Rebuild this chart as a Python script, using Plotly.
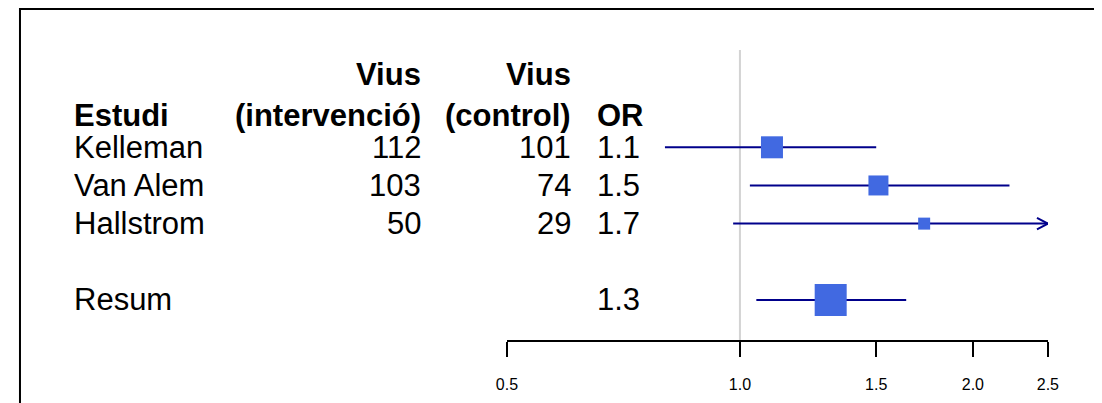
import math
import plotly.graph_objects as go

# ---------------- data ----------------
studies = ["Kelleman", "Van Alem", "Hallstrom"]
alive_intervention = [112, 103, 50]
alive_control = [101, 74, 29]
odds_ratio = [1.10, 1.51, 1.73]
ci_low = [0.80, 1.03, 0.98]
ci_high = [1.50, 2.23, 3.10]
summary_label = "Resum"
summary_or = 1.31
summary_low = 1.05
summary_high = 1.64
header_line1 = ["", "Vius", "Vius", ""]
header_line2 = ["Estudi", "(intervenció)", "(control)", "OR"]
tick_vals = [0.5, 1.0, 1.5, 2.0, 2.5]
tick_text = ["0.5", "1.0", "1.5", "2.0", "2.5"]
x_min, x_max = 0.5, 2.5

# ---------------- styles / layout ----------------
OFF = 8                      # default page body margin
W, H = 1102 - OFF, 403 - OFF
def px(p):                   # page x pixel -> paper
    return (p - OFF) / W
def py(p):                   # page y pixel -> paper
    return 1 - (p - OFF) / H

box_sizes = [22, 20, 12]
summary_size = 32
row_y = [5, 4, 3]
summary_y = 1
head_y2, head_y1 = 5.83, 6.9
FONT = "Liberation Sans, Arial, sans-serif"
FS = 31
BOX = "#4169E1"
LINE = "#00008B"
dom_y = [py(340), py(50)]

col_x = [px(62), px(420), px(573), px(596)]
col_anchor = ["left", "right", "right", "left"]

fig = go.Figure()

# CI lines
for i in range(len(studies)):
    lo = max(ci_low[i], x_min)
    hi = min(ci_high[i], x_max)
    fig.add_trace(go.Scatter(x=[lo, hi], y=[row_y[i], row_y[i]], mode="lines",
                             line=dict(color=LINE, width=2), hoverinfo="skip",
                             showlegend=False))
    if ci_high[i] > x_max:
        back = x_max / 1.033
        fig.add_trace(go.Scatter(x=[back, x_max, back],
                                 y=[row_y[i] + 0.15, row_y[i], row_y[i] - 0.15],
                                 mode="lines", line=dict(color=LINE, width=2),
                                 hoverinfo="skip", showlegend=False))
fig.add_trace(go.Scatter(x=[summary_low, summary_high], y=[summary_y, summary_y],
                         mode="lines", line=dict(color=LINE, width=2),
                         hoverinfo="skip", showlegend=False))

# boxes
fig.add_trace(go.Scatter(x=odds_ratio, y=row_y, mode="markers",
                         marker=dict(symbol="square", size=box_sizes, color=BOX,
                                     opacity=1, line=dict(width=0)),
                         showlegend=False))
fig.add_trace(go.Scatter(x=[summary_or], y=[summary_y], mode="markers",
                         marker=dict(symbol="square", size=summary_size, color=BOX,
                                     opacity=1, line=dict(width=0)),
                         showlegend=False))

annotations = []
def txt(col, y, text, bold=False):
    annotations.append(dict(xref="paper", yref="y", x=col_x[col], y=y,
                            xanchor=col_anchor[col], yanchor="middle",
                            text=f"<b>{text}</b>" if bold else text,
                            showarrow=False,
                            font=dict(family=FONT, size=FS, color="black")))

for c in range(4):
    if header_line1[c]:
        txt(c, head_y1, header_line1[c], True)
    txt(c, head_y2, header_line2[c], True)
for i in range(len(studies)):
    txt(0, row_y[i], studies[i])
    txt(1, row_y[i], str(alive_intervention[i]))
    txt(2, row_y[i], str(alive_control[i]))
    txt(3, row_y[i], f"{odds_ratio[i]:.1f}")
txt(0, summary_y, summary_label)
txt(3, summary_y, f"{summary_or:.1f}")

shapes = [
    dict(type="line", xref="x", yref="paper", x0=1, x1=1, y0=dom_y[0], y1=dom_y[1],
         line=dict(color="#d3d3d3", width=2), layer="below"),
    dict(type="rect", xref="paper", yref="paper", x0=1 / W, x1=1.05,
         y0=-0.05, y1=1 - 1 / H, line=dict(color="black", width=2)),
]

fig.update_layout(
    width=W, height=H, margin=dict(l=0, r=0, t=0, b=0),
    paper_bgcolor="white", plot_bgcolor="white",
    annotations=annotations, shapes=shapes,
    xaxis=dict(type="log", range=[math.log10(x_min), math.log10(x_max)],
               domain=[px(506), px(1058)],
               tickvals=tick_vals, ticktext=tick_text,
               ticks="outside", ticklen=15, tickwidth=1.5, tickcolor="black",
               showline=True, linecolor="black", linewidth=1.5,
               showgrid=False, zeroline=False, ticklabelstandoff=14,
               tickfont=dict(family=FONT, size=16, color="black")),
    yaxis=dict(visible=False, range=[-0.05, 7.55], domain=dom_y),
)

fig.write_html("out.html")
